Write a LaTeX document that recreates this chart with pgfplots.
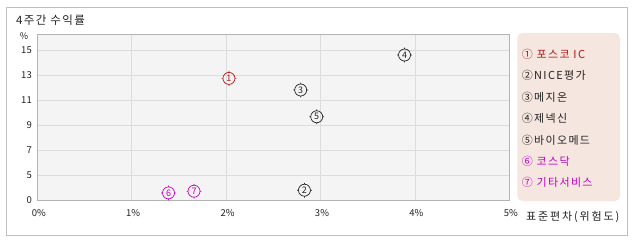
\documentclass[border=0pt]{standalone}
\usepackage{pgfplots}
\pgfplotsset{compat=1.18}
\usepackage{fontspec}
\setmainfont{Noto Sans CJK KR}
\newfontfamily\kr[LetterSpace=12]{Noto Sans CJK KR}
\newfontfamily\krw[LetterSpace=17]{Noto Sans CJK KR}
\definecolor{cred}{HTML}{B01818}
\definecolor{cmag}{HTML}{C000C0}
\definecolor{cblk}{HTML}{222222}
\definecolor{plotbg}{HTML}{F4F4F4}
\definecolor{gridc}{HTML}{DCDCDC}
\definecolor{axc}{HTML}{B4B4B4}
\definecolor{legbg}{HTML}{F5E7DF}
\pgfdeclareplotmark{cn}{%
  \pgfpathcircle{\pgfpoint{0pt}{0pt}}{\pgfplotmarksize}%
  \pgfpathmoveto{\pgfpoint{0pt}{\pgfplotmarksize}}\pgfpathlineto{\pgfpoint{0pt}{\pgfplotmarksize+1.4pt}}%
  \pgfpathmoveto{\pgfpoint{0pt}{-\pgfplotmarksize}}\pgfpathlineto{\pgfpoint{0pt}{-\pgfplotmarksize-1.4pt}}%
  \pgfpathmoveto{\pgfpoint{\pgfplotmarksize}{0pt}}\pgfpathlineto{\pgfpoint{\pgfplotmarksize+1.4pt}{0pt}}%
  \pgfpathmoveto{\pgfpoint{-\pgfplotmarksize}{0pt}}\pgfpathlineto{\pgfpoint{-\pgfplotmarksize-1.4pt}{0pt}}%
  \pgfusepathqstroke}
\newcommand{\pt}[4]{\addplot[only marks, mark=cn, mark size=6bp, color=#1, line width=0.7bp,
  nodes near coords={#2}, every node near coord/.style={anchor=center, font=\fontsize{9bp}{9bp}\selectfont, text=#1, inner sep=0pt}]
  coordinates {(#3,#4)};}
\begin{document}
\begin{tikzpicture}[x=1bp,y=1bp]
\useasboundingbox (0,0) rectangle (638,-242);
\coordinate (AX) at (37.3,-200);
\draw[color=axc!85!white, line width=0.8bp] (6.7,-7.3) rectangle (627.3,-235.3);
\node[anchor=base west, inner sep=0pt, font=\kr\fontsize{11.5bp}{11.5bp}\selectfont, text=cblk] at (16,-24.5) {4주간 수익률};
\node[anchor=center, inner sep=0pt, font=\fontsize{9bp}{9bp}\selectfont, text=cblk] at (24,-36) {\%};
\begin{axis}[
  at={(AX)}, anchor=south west,
  scale only axis, width=472bp, height=166bp,
  xmin=0, xmax=5,
  y coord trafo/.code={\pgfmathparse{#1<5 ? #1/5 : (#1-5)/2+1}},
  y coord inv trafo/.code={\pgfmathparse{#1}},
  ymin=0, ymax=16.28,
  xtick={0,1,2,3,4,5},
  xticklabels={0\%,1\%,2\%,3\%,4\%,5\%},
  ytick={0,5,7,9,11,13,15},
  yticklabels={0,5,7,9,11,13,15},
  grid=major,
  major grid style={color=gridc, line width=0.8bp},
  axis line style={color=axc, line width=0.9bp},
  axis background/.style={fill=plotbg},
  tick style={draw=none},
  /pgf/number format/assume math mode=true,
  ticklabel style={font=\fontsize{9.5bp}{9.5bp}\selectfont, text=cblk},
  xticklabel style={yshift=-6bp, xshift=1.5bp},
  yticklabel style={xshift=-2bp},
  clip=false,
]
\pt{cred}{1}{2.03}{12.73}
\pt{cblk}{2}{2.83}{1.96}
\pt{cblk}{3}{2.79}{11.8}
\pt{cblk}{4}{3.89}{14.6}
\pt{cblk}{5}{2.96}{9.66}
\pt{cmag}{6}{1.39}{1.42}
\pt{cmag}{7}{1.66}{1.76}
\end{axis}
\node[anchor=west, inner sep=0pt, font=\krw\fontsize{11bp}{11bp}\selectfont, text=cblk] at (526,-216.5) {표준편차(위험도)};
\fill[legbg, rounded corners=5bp] (517.3,-33) rectangle (620,-201);
\begin{scope}[every node/.style={anchor=west, inner sep=0pt, font=\kr\fontsize{11bp}{11bp}\selectfont}]
\node[text=cred] at (521.7,-54) {① 포스코 IC};
\node[text=cblk] at (521.7,-75.5) {②NICE평가};
\node[text=cblk] at (521.7,-97) {③메지온};
\node[text=cblk] at (521.7,-118.5) {④제넥신};
\node[text=cblk] at (521.7,-140) {⑤바이오메드};
\node[text=cmag] at (521.7,-161) {⑥ 코스닥};
\node[text=cmag] at (521.7,-182.5) {⑦ 기타서비스};
\end{scope}
\end{tikzpicture}
\end{document}
